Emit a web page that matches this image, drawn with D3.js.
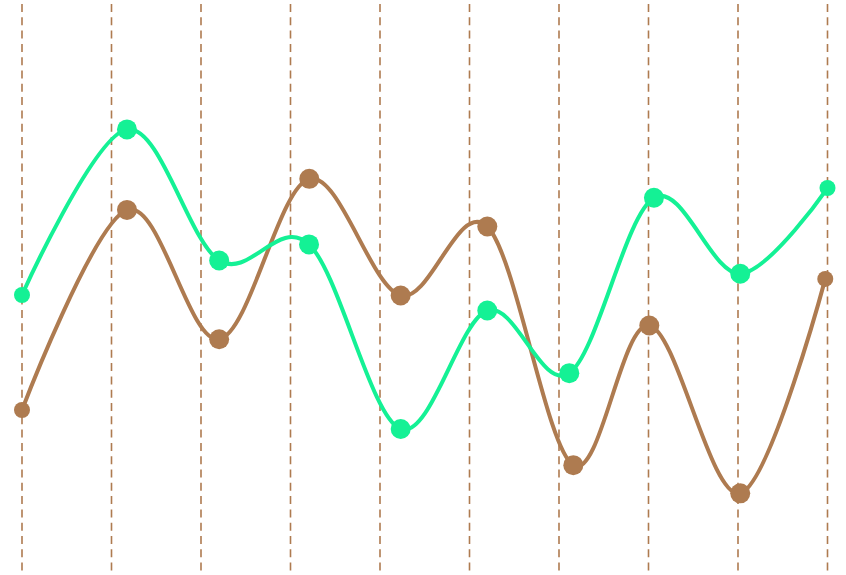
<!DOCTYPE html>
<html><head><meta charset="utf-8">
<script src="https://cdn.jsdelivr.net/npm/d3@7"></script>
<style>html,body{margin:0;padding:0;background:#fff;overflow:hidden}</style>
</head><body>
<svg id="c" width="846" height="575"></svg>
<script>
const gridTicks = [0,1,2,3,4,5,6,7,8,9];
const greenX = [0, 1.173, 2.203, 3.207, 4.231, 5.199, 6.115, 7.061, 8.025, 9.0];
const greenY = [48.7, 77.5, 54.7, 57.5, 25.4, 46.0, 35.1, 65.6, 52.4, 67.3];
const brownX = [0, 1.173, 2.203, 3.210, 4.231, 5.199, 6.160, 7.009, 8.025, 8.975];
const brownY = [28.7, 63.5, 41.0, 68.9, 48.6, 60.6, 19.1, 43.4, 14.2, 51.5];

const W = 846, H = 575;
const GREEN = "#14F195", BROWN = "#AE7B50";
const x = d3.scaleLinear().domain([0, 9]).range([22, 827.5]);
const y = d3.scaleLinear().domain([0, 100]).range([H, 0]);
const svg = d3.select("#c");

svg.append("g").selectAll("line").data(gridTicks).join("line")
  .attr("x1", d => x(d)).attr("x2", d => x(d))
  .attr("y1", 4).attr("y2", H)
  .attr("stroke", BROWN).attr("stroke-width", 1.6)
  .attr("stroke-dasharray", "8,5.3");

const series = [
  {xs: brownX, ys: brownY, color: BROWN},
  {xs: greenX, ys: greenY, color: GREEN}
];
const line = d3.line().x(d => x(d[0])).y(d => y(d[1])).curve(d3.curveCardinal);
series.forEach(s => {
  const pts = s.xs.map((v, i) => [v, s.ys[i]]);
  svg.append("path").datum(pts).attr("d", line)
    .attr("fill", "none").attr("stroke", s.color).attr("stroke-width", 4);
  svg.append("g").selectAll("circle").data(pts).join("circle")
    .attr("cx", d => x(d[0])).attr("cy", d => y(d[1]))
    .attr("r", (d, i) => (i === 0 || i === pts.length - 1) ? 8 : 10)
    .attr("fill", s.color);
});
</script>
</body></html>
